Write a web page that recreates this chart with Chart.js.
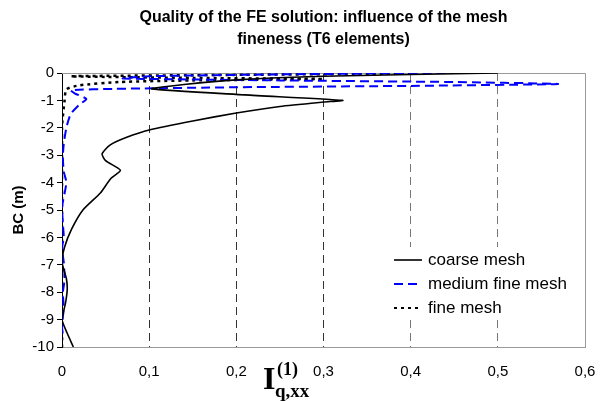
<!DOCTYPE html>
<html>
<head>
<meta charset="utf-8">
<script src="https://cdn.jsdelivr.net/npm/chart.js@4.4.1/dist/chart.umd.min.js"></script>
<style>
html, body { margin: 0; padding: 0; background: #fff; }
#wrap { width: 600px; height: 401px; }
</style>
</head>
<body>
<div id="wrap"><canvas id="mesh-chart"></canvas></div>
<script>
// depth (m) and I_q,xx values
const coarseDepth = [0, -0.12, -0.25, -0.42, -0.58, -0.8, -1.0, -1.06, -1.22, -1.46, -1.75, -2.08, -2.34, -2.63, -2.95, -3.2, -3.55, -3.85, -4.38, -5.0, -5.7, -6.35, -6.9, -7.5, -7.9, -8.4, -9.0, -9.5, -10];
const coarseVal = [0.5, 0.3, 0.2, 0.14, 0.103, 0.21, 0.322, 0.3, 0.25, 0.2, 0.15, 0.1, 0.075, 0.055, 0.046, 0.05, 0.067, 0.056, 0.044, 0.024, 0.011, 0.003, 0.0, 0.005, 0.006, 0.004, 0.0, 0.006, 0.013];

const mediumDepth = [0, -0.05, -0.12, -0.2, -0.27, -0.33, -0.4, -0.47, -0.52, -0.58, -0.63, -0.75, -0.95, -1.15, -1.5, -2.0, -2.6, -3.05, -3.6, -4.0, -4.9, -5.5, -6.0, -6.4, -6.9, -7.55, -8.0, -8.6, -9.2, -9.7];
const mediumVal = [0.44, 0.25, 0.1, 0.07, 0.25, 0.45, 0.569, 0.4, 0.2, 0.06, 0.01, 0.015, 0.028, 0.02, 0.01, 0.005, 0.002, 0.001, 0.002, 0.005, 0.0, 0.001, 0.002, 0.0, 0.002, 0.003, 0.001, 0.002, 0.0, 0.001];

const fineDepth = [-0.02, -0.08, -0.12, -0.18, -0.22, -0.27, -0.33, -0.45, -0.6, -1.0, -2.0, -10];
const fineVal = [0.4, 0.15, 0.01, 0.15, 0.3, 0.15, 0.065, 0.02, 0.005, 0.003, 0.0, 0.0];

const seriesNames = ['coarse mesh', 'medium fine mesh', 'fine mesh'];
const titleLines = ['Quality of the FE solution: influence of the mesh', 'fineness (T6 elements)'];

function toPoints(vals, depths) {
    return vals.map((v, i) => ({x: v, y: depths[i]}));
}

const lineStyles = [
    {color: '#000000', width: 1.6, dash: []},
    {color: '#0000ff', width: 2, dash: [9, 5]},
    {color: '#000000', width: 2.5, dash: [3, 4]},
];

// plot frame on top and right side
const framePlugin = {
    id: 'frame',
    beforeDatasetsDraw(chart) {
        const a = chart.chartArea, c = chart.ctx;
        c.save();
        c.strokeStyle = '#999';
        c.lineWidth = 1;
        c.beginPath();
        c.moveTo(a.left, a.top + 0.5);
        c.lineTo(a.right + 0.5, a.top + 0.5);
        c.lineTo(a.right + 0.5, a.bottom);
        c.stroke();
        c.restore();
    }
};

// legend inside the plot, bottom right, white box without border
const legendPlugin = {
    id: 'insideLegend',
    afterDatasetsDraw(chart) {
        const c = chart.ctx, a = chart.chartArea;
        c.save();
        c.fillStyle = '#fff';
        c.fillRect(386, 247, a.right - 386, 71);
        c.font = '17px "Liberation Sans", Arial, sans-serif';
        c.textBaseline = 'middle';
        seriesNames.forEach((name, i) => {
            const y = 260 + i * 24;
            const s = lineStyles[i];
            c.strokeStyle = s.color;
            c.lineWidth = i === 0 ? 1.6 : 2;
            c.setLineDash(i === 1 ? [9, 5] : (i === 2 ? [3, 4] : []));
            c.beginPath();
            c.moveTo(394, y);
            c.lineTo(422, y);
            c.stroke();
            c.setLineDash([]);
            c.fillStyle = '#000';
            c.fillText(name, 428, y);
        });
        c.restore();
    }
};

// x axis title: I with superscript (1) and subscript q,xx
const xTitlePlugin = {
    id: 'xTitle',
    afterDraw(chart) {
        const c = chart.ctx;
        c.save();
        c.fillStyle = '#000';
        c.textBaseline = 'alphabetic';
        c.font = 'bold 32px "Liberation Serif", "Times New Roman", serif';
        c.fillText('I', 263, 389);
        c.font = 'bold 18px "Liberation Serif", "Times New Roman", serif';
        c.fillText('(1)', 277, 375);
        c.font = 'bold 19px "Liberation Serif", "Times New Roman", serif';
        c.fillText('q,xx', 275, 397);
        c.restore();
    }
};

const ctx = document.getElementById('mesh-chart');
const chart = new Chart(ctx, {
    type: 'scatter',
    data: {
        datasets: [
            toPoints(coarseVal, coarseDepth),
            toPoints(mediumVal, mediumDepth),
            toPoints(fineVal, fineDepth),
        ].map((pts, i) => ({
            label: seriesNames[i],
            data: pts,
            showLine: true,
            borderColor: lineStyles[i].color,
            borderWidth: lineStyles[i].width,
            borderDash: lineStyles[i].dash,
            pointRadius: 0,
            tension: 0.2,
            fill: false,
        })),
    },
    options: {
        responsive: true,
        maintainAspectRatio: false,
        animation: false,
        layout: {padding: {left: 0, right: 0, top: 0, bottom: 0}},
        scales: {
            x: {
                type: 'linear',
                min: 0,
                max: 0.6,
                afterFit(scale) {
                    scale.height = 54;
                    scale.paddingRight = 15;
                },
                ticks: {
                    stepSize: 0.1,
                    padding: 16,
                    color: '#000',
                    font: {family: '"Liberation Sans", Arial, sans-serif', size: 15},
                    maxRotation: 0,
                    callback: v => v === 0 ? '0' : v.toFixed(1).replace('.', ','),
                },
                grid: {
                    drawTicks: false,
                    color: c => (c.tick && (c.tick.value < 0.05 || c.tick.value > 0.55)) ? 'rgba(0,0,0,0)' : (c.tick && c.tick.value > 0.35 ? '#777' : '#333'),
                    lineWidth: 1,
                },
                border: {display: true, color: '#999', width: 1, dash: [8, 5]},
            },
            y: {
                type: 'linear',
                min: -10,
                max: 0,
                afterFit(scale) { scale.width = 62; },
                ticks: {
                    stepSize: 1,
                    padding: 3,
                    color: '#000',
                    font: {family: '"Liberation Sans", Arial, sans-serif', size: 15},
                },
                grid: {
                    drawOnChartArea: false,
                    drawTicks: true,
                    tickLength: 5,
                    color: '#000',
                },
                border: {display: true, color: '#000', width: 1},
                title: {
                    display: true,
                    text: 'BC (m)',
                    color: '#000',
                    font: {family: '"Liberation Sans", Arial, sans-serif', size: 15, weight: 'bold'},
                    padding: {top: 10, bottom: 0},
                },
            },
        },
        plugins: {
            legend: {display: false},
            tooltip: {enabled: false},
            title: {
                display: true,
                fullSize: false,
                text: titleLines,
                color: '#000',
                font: {family: '"Liberation Sans", Arial, sans-serif', size: 16, weight: 'bold', lineHeight: 1.375},
                padding: {top: 7, bottom: 22},
            },
        },
    },
    plugins: [framePlugin, legendPlugin, xTitlePlugin],
});
</script>
</body>
</html>
